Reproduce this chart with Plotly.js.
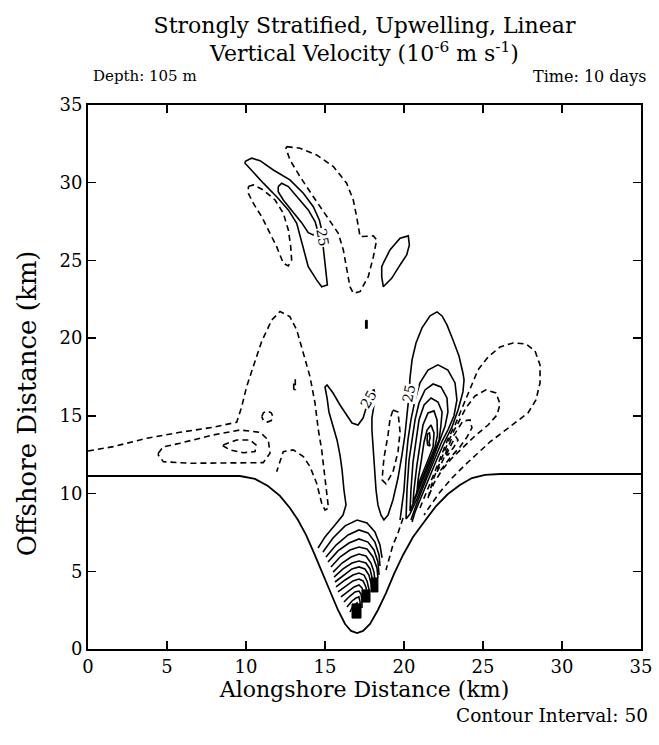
<!DOCTYPE html>
<html>
<head>
<meta charset="utf-8">
<script src="https://cdn.plot.ly/plotly-3.0.1.min.js"></script>
<style>html,body{margin:0;padding:0;background:#fff;}</style>
</head>
<body>
<div id="chart" style="width:659px;height:745px;"></div>
<script>
// ---- Data (km) ----
const coastline = [[0,11.13],[9.62,11.13],[10.57,10.94],[11.39,10.49],[12.15,9.85],[12.78,9.07],[13.29,8.3],[13.8,7.34],[14.3,6.18],[14.81,4.96],[15.32,3.67],[15.82,2.51],[16.27,1.61],[16.65,1.16],[17.03,1.03],[17.41,1.16],[17.85,1.61],[18.35,2.51],[18.86,3.6],[19.37,4.83],[19.94,6.05],[20.57,7.21],[21.27,8.17],[22.03,9.2],[22.78,9.97],[23.54,10.55],[24.3,11.0],[25.13,11.2],[26.08,11.26],[35,11.26]];

const upperPos25 = [[9.94,31.36],[10.36,31.58],[10.89,31.42],[11.73,30.82],[12.78,30.18],[13.63,29.32],[14.26,28.46],[14.64,27.6],[14.75,27.14],[14.89,25.67],[15.0,24.6],[15.15,23.42],[14.79,23.31],[14.47,23.75],[13.94,24.6],[13.52,26.11],[13.21,27.39],[12.68,28.25],[11.94,29.1],[11.1,29.97],[10.36,30.82],[9.94,31.25],[9.94,31.36]];
const upperPos75 = [[12.04,29.75],[12.26,29.97],[12.68,29.75],[13.31,29.0],[13.94,28.25],[14.37,27.5],[14.51,27.01],[14.26,26.64],[13.94,26.79],[13.52,27.43],[12.89,28.25],[12.36,28.89],[12.04,29.42],[12.04,29.75]];
const upperNegWest = [[10.15,29.75],[10.46,29.86],[11.1,29.53],[11.84,28.89],[12.36,28.04],[12.68,26.96],[12.83,25.89],[12.89,25.03],[12.68,24.65],[12.36,24.82],[11.94,25.89],[11.52,26.75],[10.99,27.82],[10.46,28.68],[10.15,29.32],[10.15,29.75]];
const upperNegEast = [[12.58,32.32],[13.42,32.22],[14.47,31.79],[15.53,31.04],[16.37,29.97],[16.79,28.89],[17.0,27.82],[17.22,26.53],[18.06,26.58],[18.27,26.32],[18.06,25.24],[17.74,23.96],[17.22,22.99],[16.79,22.89],[16.58,23.31],[16.37,24.39],[16.16,25.67],[15.84,26.75],[15.11,27.82],[14.26,29.1],[13.42,30.39],[12.78,31.47],[12.53,32.22],[12.58,32.32]];
const upperSmallPos = [[18.69,24.82],[19.11,25.67],[19.75,26.43],[20.27,26.58],[20.34,26.0],[20.17,25.35],[19.75,24.71],[19.22,23.85],[18.69,23.31],[18.59,23.96],[18.59,24.6],[18.69,24.82]];
const tinyPos = [[17.58,21.15],[17.66,21.12],[17.66,20.65],[17.58,20.65],[17.58,21.15]];

const westNeg25 = [[0,12.74],[1.6,13.02],[3.72,13.56],[5.82,13.94],[7.93,14.27],[9.41,14.59],[9.73,15.59],[10.04,16.88],[10.46,18.17],[10.99,19.78],[11.63,21.17],[12.15,21.71],[12.78,21.38],[13.21,20.53],[13.63,19.03],[14.05,17.52],[14.37,15.81],[14.58,14.09],[14.79,12.81],[15.0,11.09],[15.15,9.8],[15.22,9.07],[15.0,8.94],[14.79,9.38],[14.47,10.67],[14.05,11.73],[13.63,12.38],[12.99,12.81],[12.36,12.7],[11.94,11.41]];
const westNeg75 = [[4.45,12.59],[4.75,13.0],[5.82,13.24],[7.93,13.77],[9.62,14.09],[10.89,13.94],[11.41,13.45],[11.52,12.59],[11.09,11.99],[8.99,11.99],[6.46,11.95],[4.77,12.05],[4.45,12.48],[4.45,12.59]];
const westNeg125 = [[8.56,13.13],[9.41,13.45],[10.25,13.45],[10.63,13.13],[10.57,12.7],[9.83,12.63],[8.99,12.81],[8.56,13.06],[8.56,13.13]];
const ringNeg = [[11.0,14.95],[11.1,15.2],[11.35,15.3],[11.6,15.2],[11.7,14.95],[11.6,14.7],[11.35,14.6],[11.1,14.7],[11.0,14.95]];
const tinyNeg = [[13.02,16.7],[13.02,17.3],[13.12,17.3],[13.12,16.7],[13.02,16.7]];

const treeLobePos25 = [[14.56,6.5],[15.0,7.21],[15.63,7.98],[16.14,8.62],[16.33,9.27],[16.2,10.23],[16.08,11.52],[15.95,12.48],[15.76,13.45],[15.51,14.29],[15.25,15.25],[15.13,16.15],[15.0,16.86],[15.13,16.99],[15.51,16.47],[15.95,15.7],[16.39,15.06],[16.71,14.54],[17.09,14.41],[17.41,14.86],[17.66,15.7],[17.91,16.6],[18.1,16.67],[18.16,16.35],[18.1,15.7],[17.97,14.86],[17.97,14.09],[18.04,13.13],[18.1,11.84],[18.23,10.23],[18.35,9.27],[18.54,8.62],[18.73,8.3],[18.99,8.62],[19.3,9.59],[19.62,11.0],[19.87,12.48],[20.06,13.77],[20.19,15.06],[20.32,16.35],[20.38,17.44],[20.51,18.6],[20.76,19.69],[21.14,20.66],[21.65,21.43],[22.09,21.69],[22.41,21.43],[22.72,20.85],[23.1,19.88],[23.48,18.85],[23.73,17.76],[23.8,17.31],[23.73,16.54],[23.42,15.38],[23.04,14.29],[22.56,13.32],[22.06,12.16],[21.55,10.94],[21.04,9.72],[20.7,8.82],[20.51,8.17]];
const lobePos75 = [[19.75,8.3],[20.0,10.23],[20.13,12.16],[20.25,13.45],[20.44,14.74],[20.7,16.02],[21.01,17.12],[21.52,17.95],[22.15,18.28],[22.78,17.95],[23.23,17.12],[23.35,16.02],[23.16,14.99],[22.78,14.09],[22.41,13.38],[21.9,12.16],[21.39,10.88],[20.89,9.59],[20.57,8.62],[20.44,8.3]];
const lobePos125 = [[20.13,8.37],[20.19,10.23],[20.32,12.16],[20.51,13.45],[20.7,14.74],[20.95,15.83],[21.33,16.67],[21.84,17.05],[22.34,16.86],[22.72,16.15],[22.78,15.25],[22.6,14.35],[22.28,13.45],[21.8,12.16],[21.3,10.88],[20.79,9.59],[20.38,8.69],[20.13,8.37]];
const lobePos175 = [[20.38,8.88],[20.44,10.23],[20.57,12.03],[20.76,13.45],[20.95,14.74],[21.27,15.7],[21.71,16.15],[22.15,15.89],[22.41,15.25],[22.34,14.41],[22.22,13.45],[21.71,12.16],[21.2,10.88],[20.7,9.59],[20.38,8.88]];
const lobePos225 = [[20.57,9.4],[20.63,10.23],[20.82,11.84],[21.01,13.13],[21.2,14.41],[21.52,15.19],[21.9,15.32],[22.09,14.74],[22.12,13.77],[21.96,13.0],[21.61,12.16],[21.11,10.88],[20.57,9.4]];
const lobePos275 = [[20.82,10.1],[20.89,10.88],[21.08,12.03],[21.27,13.32],[21.46,14.09],[21.71,14.41],[21.9,13.9],[21.84,13.0],[21.52,12.16],[21.01,10.88],[20.82,10.1]];
const lobePos325 = [[21.49,13.84],[21.61,13.9],[21.65,13.58],[21.58,13.32],[21.65,13.06],[21.49,13.13],[21.46,13.45],[21.49,13.84]];

const lobeNeg25 = [[21.01,9.07],[21.23,9.59],[21.74,10.88],[22.25,12.16],[22.75,13.45],[23.23,14.41],[23.67,15.51],[24.18,16.8],[24.68,17.95],[25.32,18.79],[26.08,19.43],[26.9,19.69],[27.72,19.63],[28.29,19.18],[28.61,18.28],[28.61,17.12],[28.35,16.02],[27.85,15.19],[27.09,14.61],[26.27,13.96],[25.44,13.32],[24.68,12.61],[23.86,11.84],[23.04,11.0],[22.28,10.1],[21.65,9.2],[21.27,8.62]];
const lobeNeg75 = [[21.52,9.72],[21.84,10.88],[22.34,12.16],[22.85,13.45],[23.42,14.54],[23.92,15.51],[24.49,16.28],[25.19,16.67],[25.82,16.47],[26.08,15.77],[25.89,15.06],[25.32,14.41],[24.56,13.77],[23.8,13.06],[23.04,12.29],[22.41,11.52],[21.9,10.68],[21.52,9.72]];
const lobeNeg125 = [[22.09,11.39],[22.47,12.16],[22.97,13.45],[23.42,14.22],[23.73,14.67],[24.18,14.74],[24.3,14.22],[23.99,13.64],[23.54,13.0],[22.91,12.29],[22.34,11.52],[22.09,11.39]];
const lobeNeg175 = [[22.66,12.48],[23.04,13.26],[23.29,13.64],[23.42,13.45],[23.16,13.0],[22.78,12.48],[22.66,12.48]];
const gapNeg25 = [[19.3,15.38],[19.62,15.25],[19.75,13.96],[19.62,12.68],[19.3,11.39],[18.86,10.62],[18.61,10.88],[18.73,12.29],[18.99,13.77],[19.11,14.74],[19.3,15.38]];
const bayNeg25 = [[19.94,8.43],[19.62,7.46],[19.3,6.69],[19.05,5.86],[18.86,5.08]];

const bayPos75  = [[14.87,6.24],[15.51,7.14],[16.27,7.92],[17.03,8.3],[17.66,8.11],[18.16,7.53],[18.48,6.69],[18.61,5.86]];
const bayPos125 = [[15.06,5.92],[15.7,6.69],[16.46,7.34],[17.15,7.66],[17.72,7.47],[18.16,6.88],[18.42,6.05],[18.48,5.34]];
const bayPos175 = [[15.19,5.6],[15.82,6.31],[16.52,6.82],[17.15,7.08],[17.72,6.88],[18.1,6.37],[18.35,5.6],[18.42,4.76]];
const bayPos225 = [[15.38,5.28],[15.95,5.92],[16.58,6.37],[17.15,6.56],[17.66,6.44],[18.04,5.92],[18.29,5.21],[18.35,4.57]];
const bayPos275 = [[15.51,4.95],[16.08,5.53],[16.65,5.92],[17.15,6.11],[17.59,5.98],[17.91,5.53],[18.1,4.95],[18.16,4.44]];
const bayPos325 = [[15.57,4.63],[16.14,5.15],[16.71,5.53],[17.15,5.66],[17.59,5.53],[17.85,5.15],[17.97,4.63],[18.04,4.18]];
const bayPos375 = [[15.63,4.31],[16.2,4.76],[16.71,5.15],[17.15,5.28],[17.53,5.15],[17.78,4.76],[17.91,4.25],[17.97,3.8]];
const bayPos425 = [[15.7,3.99],[16.27,4.44],[16.77,4.76],[17.15,4.89],[17.47,4.76],[17.66,4.38],[17.78,3.86],[17.78,3.47]];
const bayPos475 = [[15.82,3.67],[16.33,4.05],[16.77,4.38],[17.15,4.5],[17.41,4.38],[17.59,3.99],[17.66,3.54],[17.66,3.15]];
const bayPos525 = [[16.01,3.35],[16.46,3.73],[16.84,3.99],[17.15,4.12],[17.34,3.93],[17.47,3.54],[17.47,3.02]];
const bayPos575 = [[16.2,3.02],[16.58,3.41],[16.9,3.67],[17.15,3.73],[17.28,3.54],[17.34,3.15],[17.34,2.64]];
const bayPos625 = [[16.39,2.7],[16.71,3.09],[16.96,3.28],[17.15,3.35],[17.22,3.02],[17.22,2.38]];
const bayPos675 = [[16.58,2.38],[16.77,2.77],[17.03,2.96],[17.09,2.64],[17.09,2.06]];

// grid cells where the contours pile up (stair-stepped land mask)
const stairCellA = [[16.71,1.99],[17.28,1.99],[17.28,2.9],[16.71,2.9],[16.71,1.99]];
const stairCellB = [[17.34,3.02],[17.85,3.02],[17.85,3.8],[17.34,3.8],[17.34,3.02]];
const stairCellC = [[17.91,3.67],[18.35,3.67],[18.35,4.57],[17.91,4.57],[17.91,3.67]];

const contourSet = [
  {level: 25, pts: upperPos25}, {level: 75, pts: upperPos75},
  {level: -25, pts: upperNegWest}, {level: -25, pts: upperNegEast},
  {level: 25, pts: upperSmallPos}, {level: 25, pts: tinyPos},
  {level: -25, pts: westNeg25}, {level: -75, pts: westNeg75}, {level: -125, pts: westNeg125},
  {level: -25, pts: ringNeg}, {level: -25, pts: tinyNeg},
  {level: 25, pts: treeLobePos25}, {level: 75, pts: lobePos75}, {level: 125, pts: lobePos125},
  {level: 175, pts: lobePos175}, {level: 225, pts: lobePos225}, {level: 275, pts: lobePos275},
  {level: 325, pts: lobePos325},
  {level: -25, pts: lobeNeg25}, {level: -75, pts: lobeNeg75}, {level: -125, pts: lobeNeg125},
  {level: -175, pts: lobeNeg175}, {level: -25, pts: gapNeg25}, {level: -25, pts: bayNeg25},
  {level: 75, pts: bayPos75}, {level: 125, pts: bayPos125}, {level: 175, pts: bayPos175},
  {level: 225, pts: bayPos225}, {level: 275, pts: bayPos275}, {level: 325, pts: bayPos325},
  {level: 375, pts: bayPos375}, {level: 425, pts: bayPos425}, {level: 475, pts: bayPos475},
  {level: 525, pts: bayPos525}, {level: 575, pts: bayPos575}, {level: 625, pts: bayPos625},
  {level: 675, pts: bayPos675}
];
const stairCells = [stairCellA, stairCellB, stairCellC];

const contourLabels = [
  {x: 14.85, y: 26.5, text: '25', angle: 80},
  {x: 17.75, y: 16.1, text: '25', angle: -60},
  {x: 20.32, y: 16.45, text: '25', angle: -80}
];

// ---- Traces ----
const traces = [];
traces.push({type: 'scatter', mode: 'lines', x: coastline.map(p => p[0]), y: coastline.map(p => p[1]),
  line: {color: '#000', width: 1.8}, hoverinfo: 'skip', showlegend: false});
contourSet.forEach(c => traces.push({
  type: 'scatter', mode: 'lines', x: c.pts.map(p => p[0]), y: c.pts.map(p => p[1]),
  line: {color: '#000', width: 1.6, dash: c.level < 0 ? '6px,4px' : 'solid'},
  hoverinfo: 'skip', showlegend: false, name: String(c.level)
}));
stairCells.forEach(s => traces.push({
  type: 'scatter', mode: 'lines', x: s.map(p => p[0]), y: s.map(p => p[1]),
  fill: 'toself', fillcolor: '#000', line: {color: '#000', width: 1},
  hoverinfo: 'skip', showlegend: false
}));

const serif = 'DejaVu Serif, Liberation Serif, serif';
const annotations = contourLabels.map(l => ({
  x: l.x, y: l.y, xref: 'x', yref: 'y', text: l.text, showarrow: false,
  textangle: l.angle, font: {family: serif, size: 14, color: '#000'},
  bgcolor: '#fff', borderpad: 0
}));
annotations.push(
  {text: 'Depth: 105 m', xref: 'paper', yref: 'paper', x: 0.005, y: 1.053, xanchor: 'left', yanchor: 'middle',
   showarrow: false, font: {family: serif, size: 15, color: '#000'}},
  {text: 'Time: 10 days', xref: 'paper', yref: 'paper', x: 1.013, y: 1.053, xanchor: 'right', yanchor: 'middle',
   showarrow: false, font: {family: serif, size: 16, color: '#000'}},
  {text: 'Contour Interval: 50', xref: 'paper', yref: 'paper', x: 1.016, y: -0.123, xanchor: 'right', yanchor: 'middle',
   showarrow: false, font: {family: serif, size: 18.5, color: '#000'}},
  {text: 'Offshore Distance (km)', xref: 'paper', yref: 'paper', x: -0.110, y: 0.452, xanchor: 'center', yanchor: 'middle',
   textangle: -90, showarrow: false, font: {family: serif, size: 26, color: '#000'}}
);

const axisCommon = {
  range: [0, 35], tick0: 0, dtick: 5, ticks: 'inside', ticklen: 8, tickwidth: 1.5, tickcolor: '#000',
  showline: true, linewidth: 2, linecolor: '#000', mirror: 'ticks', showgrid: false, zeroline: false,
  tickfont: {family: serif, size: 18, color: '#000'}, fixedrange: true
};

const layout = {
  width: 659, height: 745,
  margin: {l: 88, r: 18, t: 105, b: 96},
  paper_bgcolor: '#fff', plot_bgcolor: '#fff',
  font: {family: serif, color: '#000'},
  title: {text: 'Strongly Stratified, Upwelling, Linear<br>Vertical Velocity (10<sup>-6</sup> m s<sup>-1</sup>)',
          font: {family: serif, size: 22, color: '#000'},
          x: 0.5, xref: 'paper', xanchor: 'center', y: 0.956, yref: 'container', yanchor: 'middle'},
  xaxis: Object.assign({}, axisCommon, {title: {text: 'Alongshore Distance (km)', font: {family: serif, size: 22, color: '#000'}, standoff: 4}}),
  yaxis: Object.assign({}, axisCommon),
  annotations: annotations,
  showlegend: false
};

Plotly.newPlot('chart', traces, layout, {displayModeBar: false, staticPlot: true});
</script>
</body>
</html>
